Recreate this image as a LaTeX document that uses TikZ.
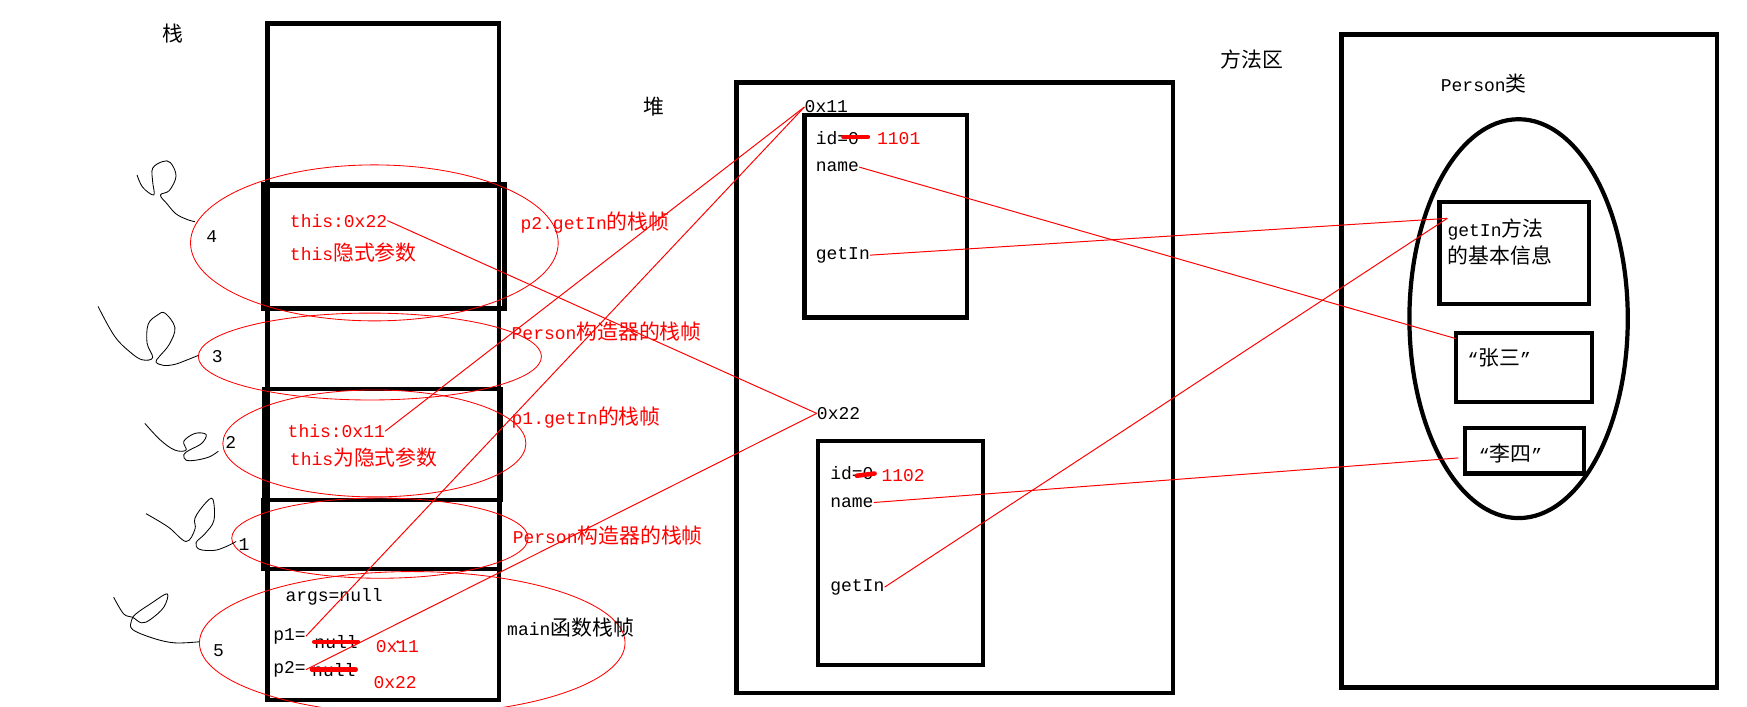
\documentclass[tikz,border=0pt]{standalone}
\usepackage{fontspec}
\setmainfont{Liberation Mono}
\newfontfamily\cjk[Scale=1.16]{Noto Sans CJK SC}
\newcommand{\zh}[1]{{\cjk #1}}
\tikzset{
  txt/.style={inner sep=0pt, anchor=west, font=\fontsize{12.8}{19}\selectfont},
  rtxt/.style={txt, text=red},
  blk/.style={draw=black, line width=3pt},
  ring/.style={draw=red, line width=0.6pt},
  link/.style={red, line width=0.7pt},
  strike/.style={red, line width=3.2pt, line cap=round},
  squig/.style={black, line width=0.6pt},
}
\begin{document}
\begin{tikzpicture}[x=0.027855cm, y=-0.027855cm]
\useasboundingbox (0,0) rectangle (1568,634);

% Stack
\node[txt] (stk) at (146,30) {\zh{栈}};
\draw[blk] (240,21) rectangle (448,628);
\draw[blk, line width=3.8pt] (237,166) rectangle (453,277);
\draw[blk] (237,349) rectangle (450,449);
\draw[blk] (236,449) rectangle (449,511);

% frames
\draw[ring] (336,218) ellipse (165 and 70);
\draw[ring] (332,320) ellipse (154 and 39);
\draw[ring] (336,398) ellipse (136 and 48);
\draw[ring] (341,483) ellipse (133 and 36);
\draw[ring] (370,577) ellipse (191 and 64);

% order numbers
\node[txt] (n4) at (185,212) {4};
\node[txt] (n3) at (190,320) {3};
\node[txt] (n2) at (202,397) {2};
\node[txt] (n1) at (214,489) {1};
\node[txt] (n5) at (191,584) {5};

\draw[squig] plot[smooth, tension=0.6] coordinates {(123,157) (128,168) (138,175) (137,163) (137,151) (146,145) (153,146) (158,158) (152,171) (144,175) (150,183) (158,192) (168,197) (175,199)};
\draw[squig] plot[smooth, tension=0.6] coordinates {(88,275) (103,302) (118,317) (128,323) (137,321) (132,308) (133,291) (141,283) (148,281) (157,294) (152,309) (143,320) (140,325) (147,328) (157,327) (168,323) (178,319)};
\draw[squig] plot[smooth, tension=0.6] coordinates {(130,380) (144,395) (157,404) (167,404) (165,396) (175,389) (185,390) (181,398) (170,404) (165,408) (167,413) (176,413) (188,410) (196,405)};
\draw[squig] plot[smooth, tension=0.6] coordinates {(131,461) (151,473) (167,486) (175,475) (175,465) (184,452) (191,448) (192,467) (184,479) (176,487) (179,493) (192,494) (202,491) (212,486)};
\draw[squig] plot[smooth, tension=0.6] coordinates {(102,536) (111,551) (119,554) (127,559) (135,556) (147,545) (150,533) (135,542) (122,551) (118,557) (119,565) (138,573) (157,577) (179,576)};

% stack contents
\node[rtxt] (this22) at (260,198) {this:0x22};
\node[rtxt] (hid4) at (260,227) {this\zh{隐式参数}};
\node[rtxt] (this11) at (258,387) {this:0x11};
\node[rtxt] (hid2) at (260,411) {this\zh{为隐式参数}};
\node[txt] (args) at (256,536) {args=null};
\node[txt] (p1) at (245,571) {p1=};
\node[txt] (nul1) at (282,576) {null};
\node[rtxt] (v1) at (337,580) {0x11};
\node[txt] (p2) at (245,601) {p2=};
\node[txt] (nul2) at (280,601) {null};
\node[rtxt] (v2) at (335,613) {0x22};
\draw[strike] (nul1.west) -- (nul1.east);
\draw[strike] (nul2.west) -- (nul2.east);
\fill[red] (357,576) circle (1.5);

% frame labels
\node[rtxt] (f4) at (467,200) {p2.getIn\zh{的栈帧}};
\node[rtxt] (f3) at (459,298) {Person\zh{构造器的栈帧}};
\node[rtxt] (f2) at (459,375) {p1.getIn\zh{的栈帧}};
\node[rtxt] (f1) at (460,481) {Person\zh{构造器的栈帧}};
\node[txt] (f5) at (455,563) {main\zh{函数栈帧}};

% Heap
\node[txt] (hp) at (577,96) {\zh{堆}};
\draw[blk] (661,74) rectangle (1053,622);
\node[txt] (a11) at (722,96) {0x11};
\draw[blk] (722,103) rectangle (868,285);
\node[txt] (id1) at (732,124) {id=0};
\node[rtxt] (v1101) at (787,124) {1101};
\draw[strike] (757,123) -- (779,123);
\node[txt] (nm1) at (732,150) {name};
\node[txt] (gi1) at (732,229) {getIn};
\node[txt] (a22) at (733,371) {0x22};
\draw[blk] (734,396) rectangle (882,597);
\node[txt] (id2) at (745,425) {id=0};
\node[rtxt] (v1102) at (791,427) {1102};
\draw[strike] (769,427) -- (785,425);
\node[txt] (nm2) at (745,451) {name};
\node[txt] (gi2) at (745,527) {getIn};

% Method area
\node[txt] (ma) at (1095,53) {\zh{方法区}};
\draw[blk] (1204,31) rectangle (1541,617);
\node[txt] (pc) at (1293,75) {Person\zh{类}};
\draw[blk] (1363,286) ellipse (98 and 179);
\draw[blk] (1292,181) rectangle (1426,273);
\node[txt, anchor=north west, align=left] (gm) at (1299,196) {getIn\zh{方法}\\\zh{的基本信息}};
\draw[blk] (1307,299) rectangle (1429,361);
\node[txt] (zs) at (1317,321) {“\zh{张三}”};
\draw[blk] (1315,384) rectangle (1422,425);
\node[txt] (ls) at (1327,407) {“\zh{李四}”};
\coordinate (zsin) at (1307,304);
\coordinate (lsin) at (1309,411);

% references
\draw[link] (this22.east) -- (a22.west);
\draw[link] (this11.east) -- (a11.west);
\draw[link] (p1.east) -- (a11.west);
\draw[link] (p2.east) -- (a22.west);
\draw[link] (nm1.east) -- (zsin);
\draw[link] (gi1.east) -- (gm.north west);
\draw[link] (nm2.east) -- (lsin);
\draw[link] (gi2.east) -- (gm.north west);

\end{tikzpicture}
\end{document}
